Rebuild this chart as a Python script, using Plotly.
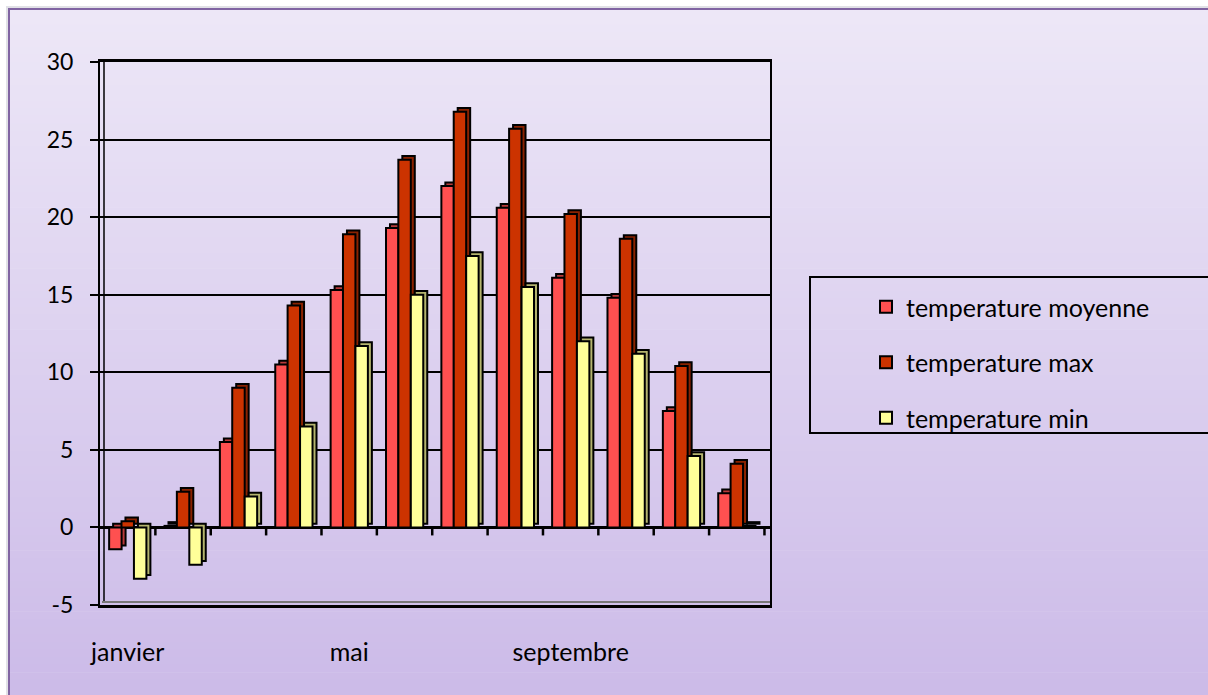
import plotly.graph_objects as go

# Monthly temperatures (°C)
months = ["janvier", "février", "mars", "avril", "mai", "juin",
          "juillet", "août", "septembre", "octobre", "novembre", "décembre"]
temp_moyenne = [-1.4, 0.1, 5.5, 10.5, 15.3, 19.3, 22.0, 20.6, 16.1, 14.8, 7.5, 2.2]
temp_max = [0.4, 2.3, 9.0, 14.3, 18.9, 23.7, 26.8, 25.7, 20.2, 18.6, 10.4, 4.1]
temp_min = [-3.3, -2.4, 2.0, 6.5, 11.7, 15.0, 17.5, 15.5, 12.0, 11.2, 4.6, 0.1]
labelled_months = ["janvier", "mai", "septembre"]
y_ticks = [-5, 0, 5, 10, 15, 20, 25, 30]

W, H = 1208, 695
FONT = "Lato"
x_idx = list(range(len(months)))

series = [
    ("temperature moyenne", temp_moyenne, "#ff5050", "#b83a3a", -0.335),
    ("temperature max", temp_max, "#cc3300", "#8a2200", -0.112),
    ("temperature min", temp_min, "#ffff99", "#b5b56e", 0.113),
]
bar_w = 0.225
depth_x = 0.072   # side face shift, category units
depth_y = 0.24    # top face shift, value units

fig = go.Figure()
for i, (name, vals, front, side, off) in enumerate(series):
    # depth face (drawn first, slightly up and to the right)
    fig.add_trace(go.Bar(
        x=x_idx, y=vals, base=depth_y, offset=off + depth_x, width=bar_w,
        marker=dict(color=side, line=dict(color="black", width=2)),
        showlegend=False, hoverinfo="skip",
    ))
    # front face
    fig.add_trace(go.Bar(
        x=x_idx, y=vals, offset=off, width=bar_w, name=name,
        legendgroup=f"g{i}",
        marker=dict(color=front, line=dict(color="black", width=2)),
    ))

shapes = []
# vertical lavender gradient background
n = 90
top_c = (237, 231, 247)
bot_c = (204, 187, 232)
y_top = 1 - 9 / H
for k in range(n):
    t = k / (n - 1)
    c = tuple(round(top_c[j] + (bot_c[j] - top_c[j]) * t) for j in range(3))
    y1 = y_top - y_top * k / n
    y0 = y_top - y_top * (k + 1) / n
    shapes.append(dict(type="rect", xref="paper", yref="paper",
                       x0=9 / W, x1=1.0, y0=max(y0 - 0.001, 0), y1=y1,
                       fillcolor=f"rgb{c}", line=dict(width=0), layer="below"))
# soft edge just outside the frame
shapes.append(dict(type="path", xref="paper", yref="paper",
                   path=f"M 1,{1 - 7 / H} L {7 / W},{1 - 7 / H} L {7 / W},0",
                   line=dict(color="rgb(225,225,230)", width=2), layer="below"))
# outer chart border
shapes.append(dict(type="path", xref="paper", yref="paper",
                   path=f"M 1,{y_top} L {9 / W},{y_top} L {9 / W},0",
                   line=dict(color="rgb(128,100,162)", width=2), layer="below"))
# legend frame
shapes.append(dict(type="path", xref="paper", yref="paper",
                   path=(f"M 1,{1 - 277 / H} L {810 / W},{1 - 277 / H} "
                         f"L {810 / W},{1 - 433 / H} L 1,{1 - 433 / H}"),
                   line=dict(color="black", width=2), layer="above"))
# category boundary ticks on the zero line
for i in range(len(months)):
    shapes.append(dict(type="line", xref="x", yref="y", ysizemode="pixel",
                       yanchor=0, x0=i + 0.5, x1=i + 0.5, y0=0, y1=-8,
                       line=dict(color="black", width=2.5), layer="above"))
# inner wall edge
shapes.append(dict(type="line", xref="paper", yref="paper",
                   x0=104 / W, x1=104 / W, y0=1 - 603 / H, y1=1 - 60 / H,
                   line=dict(color="black", width=1.5), layer="above"))
# floor edge along the bottom of the box
shapes.append(dict(type="line", xref="paper", yref="paper",
                   x0=102 / W, x1=770 / W, y0=1 - 602 / H, y1=1 - 602 / H,
                   line=dict(color="rgb(120,120,120)", width=2), layer="above"))

fig.update_layout(
    width=W, height=H,
    margin=dict(l=0, r=0, t=0, b=0, pad=0, autoexpand=False),
    paper_bgcolor="white",
    plot_bgcolor="rgba(0,0,0,0)",
    barmode="overlay",
    font=dict(family=FONT, size=25, color="black"),
    shapes=shapes,
    showlegend=True,
    legend=dict(x=866 / W, xanchor="left", y=1 - 284 / H, yanchor="top",
                bgcolor="rgba(0,0,0,0)", borderwidth=0,
                tracegroupgap=20, font=dict(family=FONT, size=25),
                itemwidth=30),
    xaxis=dict(
        domain=[100 / W, 770 / W],
        range=[-0.5, 11.6],
        tickmode="array",
        tickvals=[months.index(m) for m in labelled_months],
        ticktext=labelled_months,
        ticks="", showgrid=False, zeroline=False,
        showline=True, linecolor="black", linewidth=3, mirror=True,
        ticklabelstandoff=23, automargin=False,
    ),
    yaxis=dict(
        domain=[1 - 605 / H, 1 - 62 / H],
        range=[-5, 30],
        tickmode="array", tickvals=y_ticks,
        ticktext=[str(v) for v in y_ticks],
        tickfont=dict(family=FONT, size=23),
        showgrid=True, gridcolor="black", gridwidth=2,
        zeroline=True, zerolinecolor="black", zerolinewidth=2.5,
        showline=True, linecolor="black", linewidth=2, mirror=True,
        ticks="outside", ticklen=8, tickwidth=2, tickcolor="black",
        ticklabelstandoff=12, automargin=False,
    ),
)

fig.write_html("out.html")
